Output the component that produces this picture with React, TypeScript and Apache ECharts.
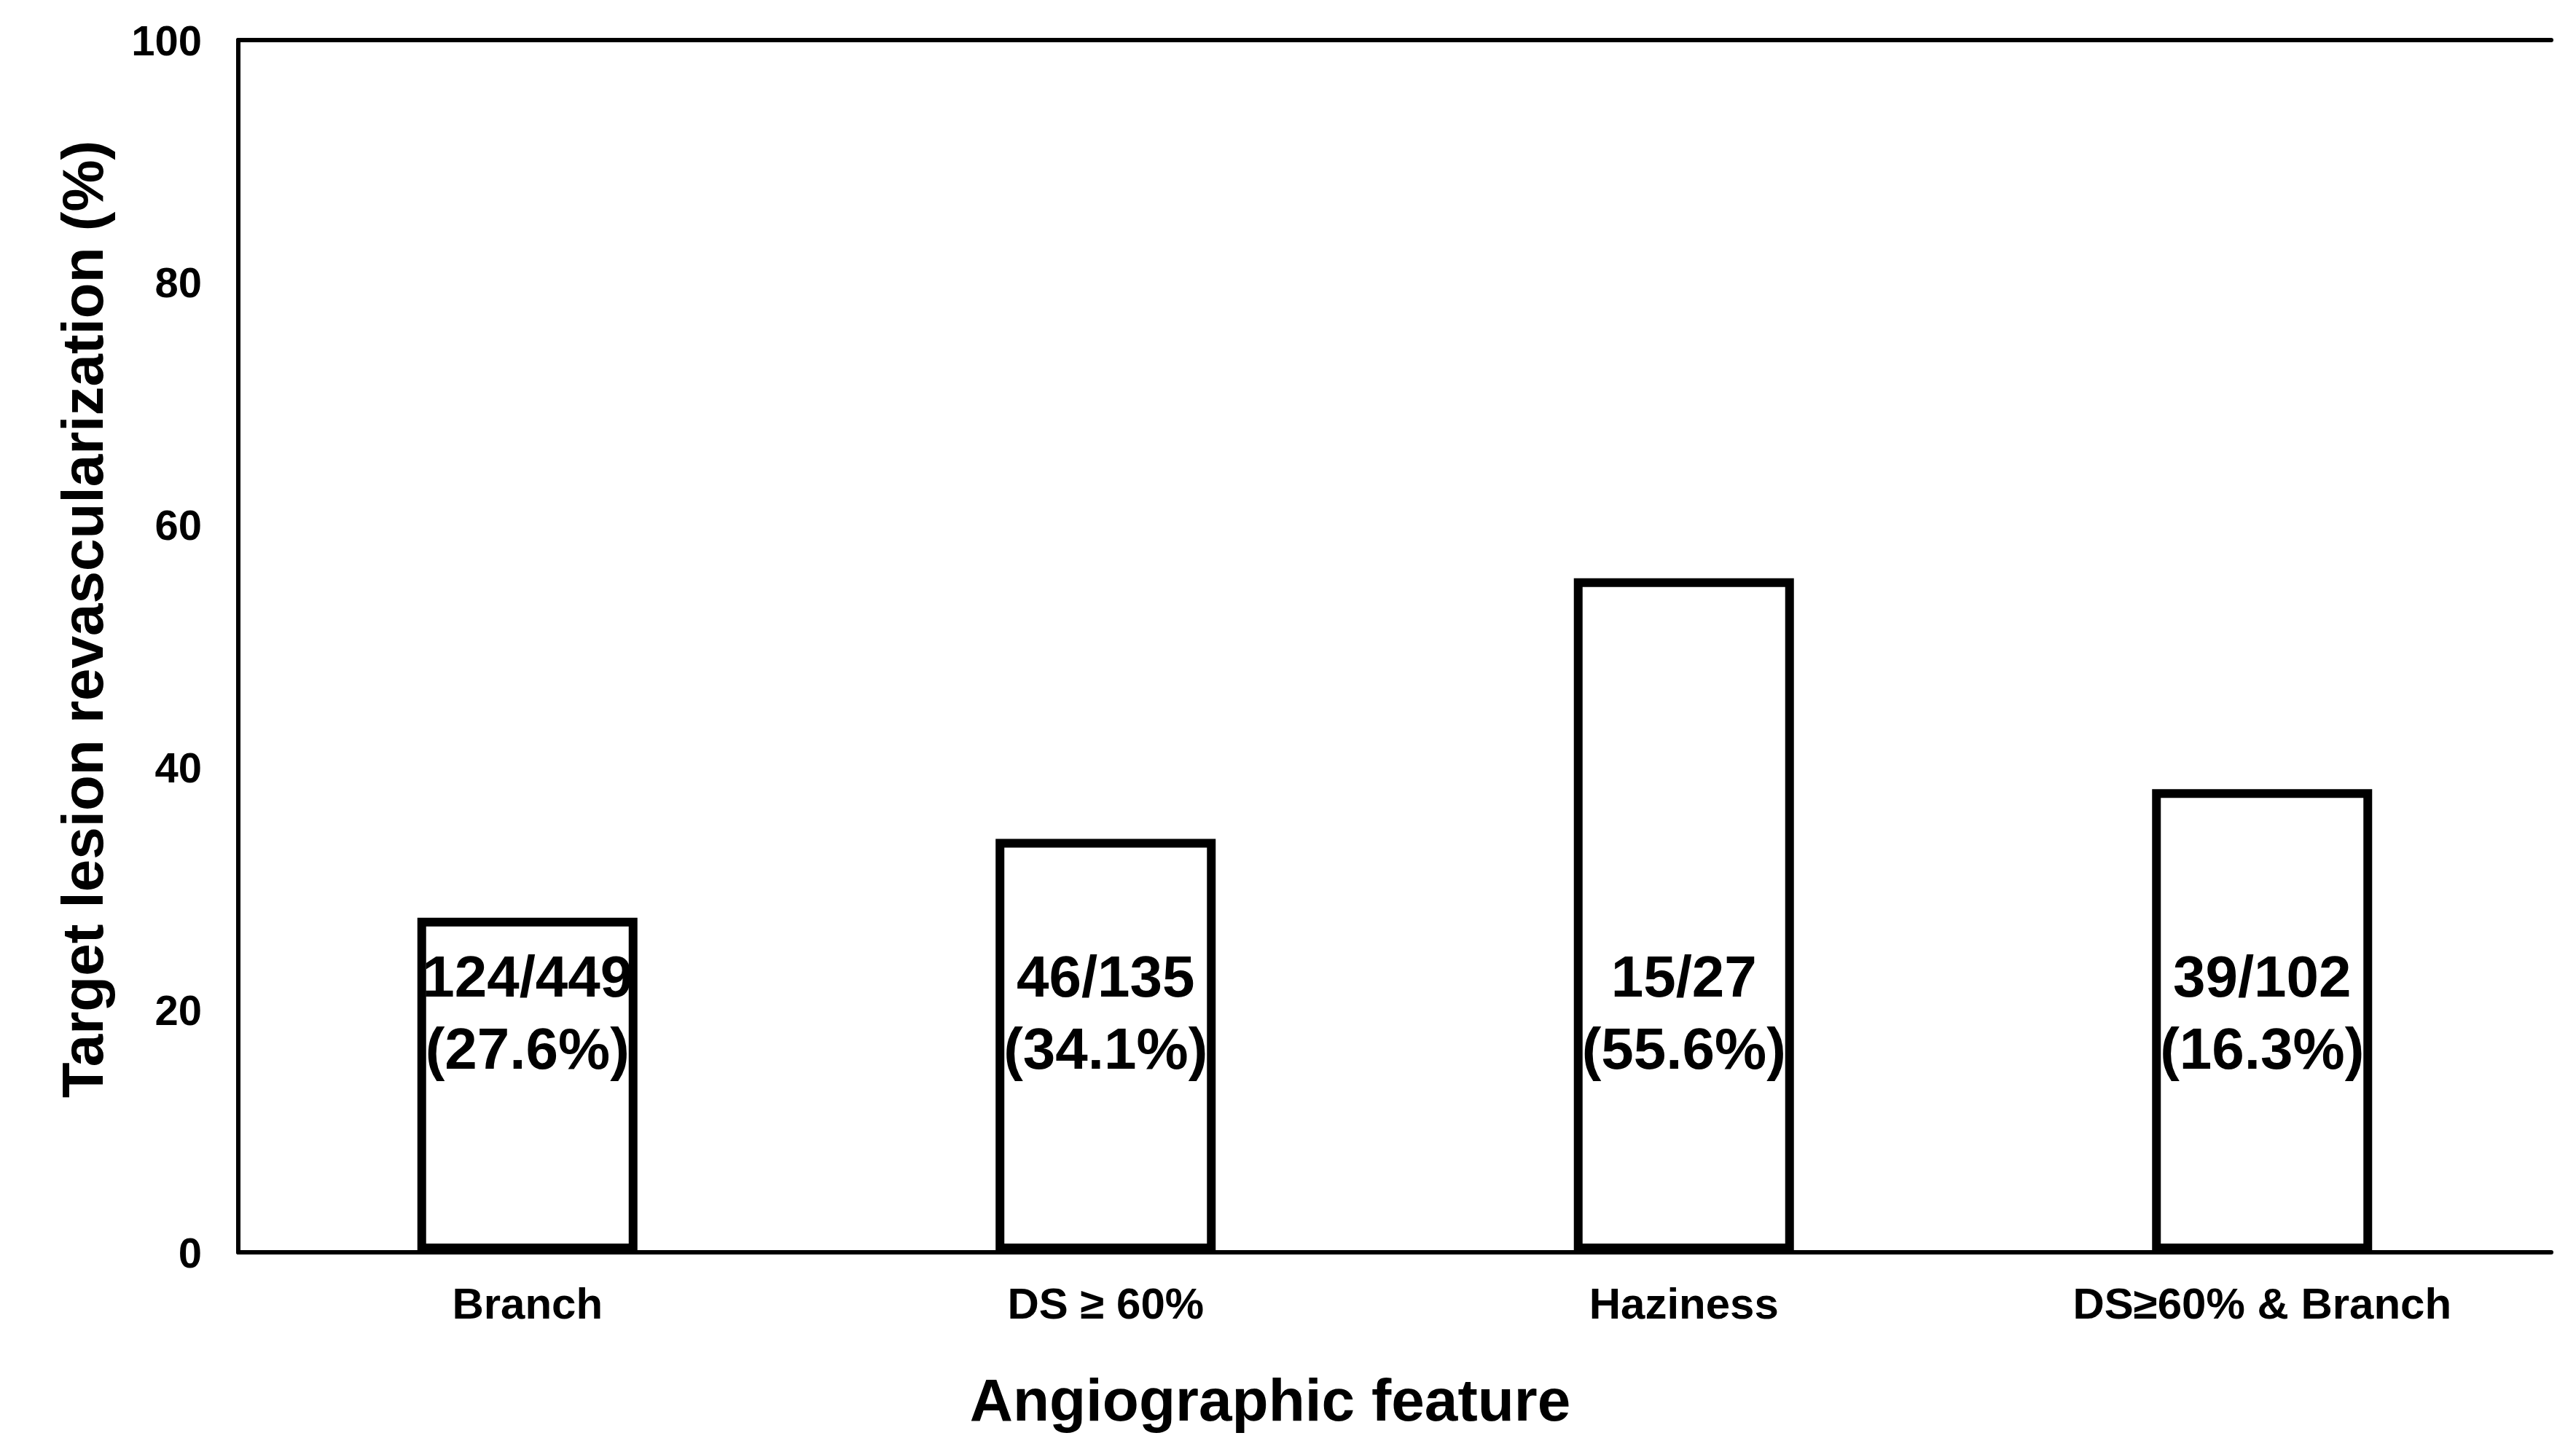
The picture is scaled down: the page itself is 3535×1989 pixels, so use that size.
import React, { useEffect, useRef } from "react";
import * as echarts from "echarts";

const categories = ["Branch", "DS ≥ 60%", "Haziness", "DS≥60% & Branch"];
const values = [27.6, 34.1, 55.6, 38.2];
const barLabels = ["124/449\n(27.6%)", "46/135\n(34.1%)", "15/27\n(55.6%)", "39/102\n(16.3%)"];
const yTicks = [0, 20, 40, 60, 80, 100];
const xTitle = "Angiographic feature";
const yTitle = "Target lesion revascularization (%)";

const FONT = '"Liberation Sans", Arial, Helvetica, sans-serif';

export default function App() {
  const ref = useRef<HTMLDivElement>(null);
  useEffect(() => {
    if (!ref.current) return;
    const chart = echarts.init(ref.current, undefined, { renderer: "svg" });
    chart.setOption({
      animation: false,
      backgroundColor: "#ffffff",
      textStyle: { fontFamily: FONT },
      grid: { left: 327, right: 34, top: 55, bottom: 270, containLabel: false },
      xAxis: [
        {
          type: "category",
          data: categories,
          position: "bottom",
          axisLine: { show: true, lineStyle: { color: "#000", width: 6 } },
          axisTick: { show: false },
          axisLabel: {
            color: "#000",
            fontSize: 60,
            fontWeight: "bold",
            fontFamily: FONT,
            margin: 40,
          },
          splitLine: { show: false },
        },
        {
          type: "category",
          data: categories,
          position: "top",
          axisLine: { show: true, lineStyle: { color: "#000", width: 6 } },
          axisTick: { show: false },
          axisLabel: { show: false },
          splitLine: { show: false },
        },
      ],
      yAxis: {
        type: "value",
        min: yTicks[0],
        max: yTicks[yTicks.length - 1],
        interval: 20,
        axisLine: { show: true, lineStyle: { color: "#000", width: 6 } },
        axisTick: { show: false },
        splitLine: { show: false },
        axisLabel: {
          color: "#000",
          fontSize: 58,
          fontWeight: "bold",
          fontFamily: FONT,
          margin: 50,
        },
      },
      series: [
        {
          type: "bar",
          xAxisIndex: 0,
          data: values.map((v, i) => ({
            value: v,
            label: { formatter: barLabels[i] },
          })),
          barWidth: 302,
          itemStyle: { color: "#ffffff", borderColor: "#000", borderWidth: 12 },
          label: {
            show: true,
            position: "insideBottom",
            distance: 230,
            color: "#000",
            fontSize: 80,
            fontWeight: "bold",
            fontFamily: FONT,
            lineHeight: 99,
            align: "center",
          },
        },
      ],
      graphic: [
        {
          type: "text",
          x: 1743,
          y: 1921,
          style: {
            text: xTitle,
            fontSize: 82,
            fontWeight: "bold",
            fontFamily: FONT,
            fill: "#000",
            textAlign: "center",
            textVerticalAlign: "middle",
          },
        },
        {
          type: "text",
          x: 113,
          y: 850,
          rotation: Math.PI / 2,
          style: {
            text: yTitle,
            fontSize: 80,
            fontWeight: "bold",
            fontFamily: FONT,
            fill: "#000",
            textAlign: "center",
            textVerticalAlign: "middle",
          },
        },
      ],
    });
    return () => chart.dispose();
  }, []);
  return (
    <div
      ref={ref}
      style={{ position: "absolute", left: 0, top: 0, width: 3535, height: 1989 }}
    />
  );
}
